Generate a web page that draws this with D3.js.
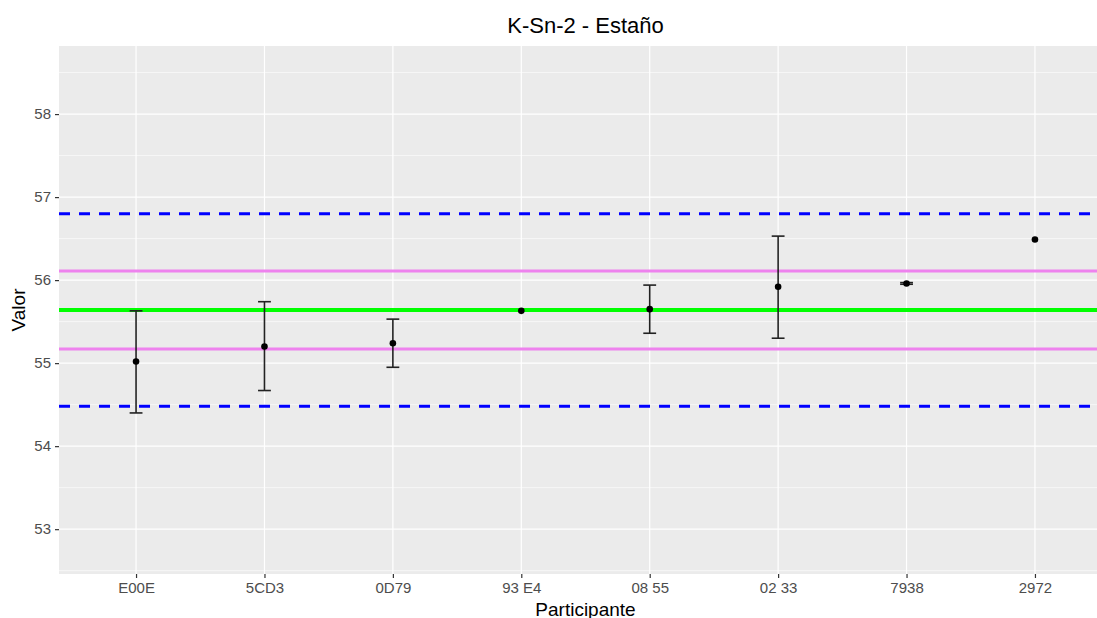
<!DOCTYPE html>
<html>
<head>
<meta charset="utf-8">
<script src="https://cdn.jsdelivr.net/npm/d3@7"></script>
<style>
  body { margin: 0; background: #fff; overflow: hidden; }
  svg { font-family: Arial, "Liberation Sans", sans-serif; }
</style>
</head>
<body>
<script>
// data
var participants = ["E00E", "5CD3", "0D79", "93 E4", "08 55", "02 33", "7938", "2972"];
var values = [55.02, 55.20, 55.24, 55.63, 55.65, 55.92, 55.96, 56.49];
var lower = [54.40, 54.67, 54.95, null, 55.36, 55.30, 55.95, null];
var upper = [55.63, 55.74, 55.53, null, 55.94, 56.53, 55.97, null];
var yTicks = [53, 54, 55, 56, 57, 58];
var refLines = [
  {value: 56.80, color: "#0000ff", width: 3, dash: "11,9"},
  {value: 54.48, color: "#0000ff", width: 3, dash: "11,9"},
  {value: 56.11, color: "#ee82ee", width: 3, dash: null},
  {value: 55.17, color: "#ee82ee", width: 3, dash: null},
  {value: 55.64, color: "#00ff00", width: 4, dash: null}
];

var width = 1097, height = 618;
var margin = {top: 46, left: 59};
var innerWidth = 1112 - margin.left;
var innerHeight = 574 - margin.top;

var svg = d3.select("body").append("svg")
    .attr("width", width)
    .attr("height", height);

var g = svg.append("g")
    .attr("transform", "translate(" + margin.left + "," + margin.top + ")");

// scales (ggplot style discrete expansion of 0.6)
var x = d3.scaleLinear()
    .domain([0.4, participants.length + 0.6])
    .range([0, innerWidth]);
var xPos = (d, i) => x(i + 1);

var y = d3.scaleLinear()
    .domain([52.46, 58.82])
    .range([innerHeight, 0]);

// panel
g.append("rect")
    .attr("width", innerWidth)
    .attr("height", innerHeight)
    .attr("fill", "#ebebeb");

// minor grid
var minor = d3.range(52.5, 59, 1);
g.selectAll(".minor")
    .data(minor)
    .enter().append("line")
    .attr("x1", 0).attr("x2", innerWidth)
    .attr("y1", d => y(d)).attr("y2", d => y(d))
    .attr("stroke", "#fff").attr("stroke-width", 0.6);

// major grid
g.selectAll(".hmajor")
    .data(yTicks)
    .enter().append("line")
    .attr("x1", 0).attr("x2", innerWidth)
    .attr("y1", d => y(d)).attr("y2", d => y(d))
    .attr("stroke", "#fff").attr("stroke-width", 1.2);

g.selectAll(".vmajor")
    .data(participants)
    .enter().append("line")
    .attr("x1", xPos).attr("x2", xPos)
    .attr("y1", 0).attr("y2", innerHeight)
    .attr("stroke", "#fff").attr("stroke-width", 1.2);

// reference lines
g.selectAll(".ref")
    .data(refLines)
    .enter().append("line")
    .attr("x1", 0).attr("x2", innerWidth)
    .attr("y1", d => y(d.value)).attr("y2", d => y(d.value))
    .attr("stroke", d => d.color)
    .attr("stroke-width", d => d.width)
    .attr("stroke-dasharray", d => d.dash);

// error bars
var capHalf = (x(1.05) - x(0.95)) / 2;
var bars = participants.map((p, i) => ({i: i, lo: lower[i], hi: upper[i]}))
    .filter(d => d.lo != null);

var eb = g.selectAll(".eb").data(bars).enter().append("g")
    .attr("stroke", "#222").attr("stroke-width", 1.6);
eb.append("line")
    .attr("x1", d => x(d.i + 1)).attr("x2", d => x(d.i + 1))
    .attr("y1", d => y(d.lo)).attr("y2", d => y(d.hi));
eb.append("line")
    .attr("x1", d => x(d.i + 1) - capHalf).attr("x2", d => x(d.i + 1) + capHalf)
    .attr("y1", d => y(d.lo)).attr("y2", d => y(d.lo));
eb.append("line")
    .attr("x1", d => x(d.i + 1) - capHalf).attr("x2", d => x(d.i + 1) + capHalf)
    .attr("y1", d => y(d.hi)).attr("y2", d => y(d.hi));

// points
g.selectAll(".pt")
    .data(values)
    .enter().append("circle")
    .attr("cx", (d, i) => x(i + 1))
    .attr("cy", d => y(d))
    .attr("r", 3.3)
    .attr("fill", "#000");

// axes
var leftAxis = d3.axisLeft(y)
    .tickValues(yTicks)
    .tickSize(4)
    .tickPadding(4)
    .tickFormat(d3.format("d"));
var ya = g.append("g").call(leftAxis);
ya.select(".domain").remove();
ya.selectAll("line").attr("stroke", "#333").attr("stroke-width", 1.2);
ya.selectAll("text").attr("fill", "#4d4d4d").style("font-size", "15px");

var bottomAxis = d3.axisBottom(x)
    .tickValues(d3.range(1, participants.length + 1))
    .tickSize(4)
    .tickPadding(4)
    .tickFormat(d => participants[d - 1]);
var xa = g.append("g")
    .attr("transform", "translate(0," + innerHeight + ")")
    .call(bottomAxis);
xa.select(".domain").remove();
xa.selectAll("line").attr("stroke", "#333").attr("stroke-width", 1.2);
xa.selectAll("text").attr("fill", "#4d4d4d").style("font-size", "15px");

// titles
svg.append("text")
    .attr("x", margin.left + innerWidth / 2)
    .attr("y", 33)
    .attr("text-anchor", "middle")
    .style("font-size", "22px")
    .attr("fill", "#000")
    .text("K-Sn-2 - Estaño");

svg.append("text")
    .attr("x", margin.left + innerWidth / 2)
    .attr("y", 616)
    .attr("text-anchor", "middle")
    .style("font-size", "19px")
    .text("Participante");

svg.append("text")
    .attr("transform", "translate(25," + (margin.top + innerHeight / 2) + ") rotate(-90)")
    .attr("text-anchor", "middle")
    .style("font-size", "19px")
    .text("Valor");
</script>
</body>
</html>
